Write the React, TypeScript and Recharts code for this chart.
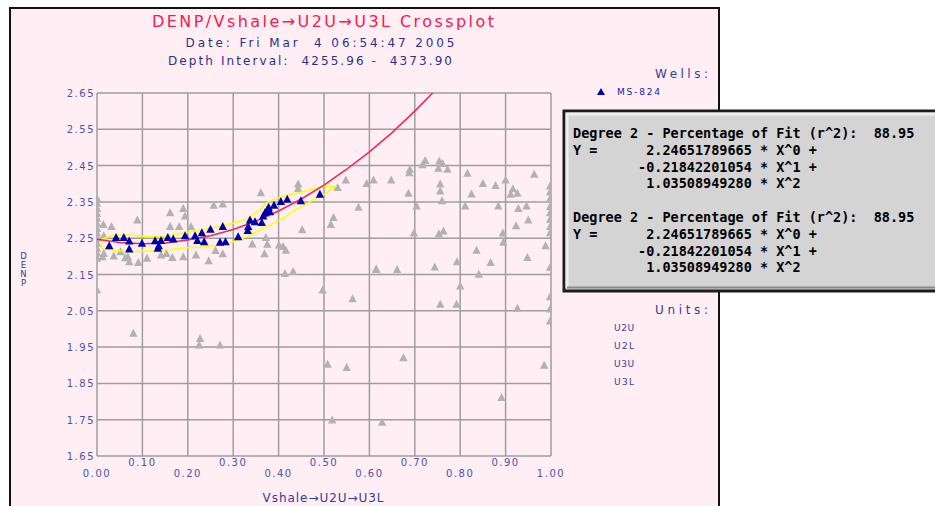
import React from "react";
import { ComposedChart, Scatter, XAxis, YAxis, CartesianGrid } from "recharts";

const X_TICKS = [0, 0.1, 0.2, 0.3, 0.4, 0.5, 0.6, 0.7, 0.8, 0.9, 1.0];
const Y_TICKS = [1.65, 1.75, 1.85, 1.95, 2.05, 2.15, 2.25, 2.35, 2.45, 2.55, 2.65];
const UNITS = ["U2U", "U2L", "U3U", "U3L"];
const FIT_TEXT = [
  "Degree 2 - Percentage of Fit (r^2):  88.95",
  "Y =      2.24651789665 * X^0 +",
  "        -0.21842201054 * X^1 +",
  "         1.03508949280 * X^2",
  "",
  "Degree 2 - Percentage of Fit (r^2):  88.95",
  "Y =      2.24651789665 * X^0 +",
  "        -0.21842201054 * X^1 +",
  "         1.03508949280 * X^2",
];

// grey triangles: all points of the crossplot
const allPoints = [
  { x: 0.0, y: 2.36 }, { x: 0.0, y: 2.346 }, { x: 0.0, y: 2.332 }, { x: 0.0, y: 2.318 },
  { x: 0.0, y: 2.305 }, { x: 0.0, y: 2.291 }, { x: 0.0, y: 2.277 }, { x: 0.0, y: 2.264 },
  { x: 0.0, y: 2.25 }, { x: 0.0, y: 2.236 }, { x: 0.0, y: 2.222 }, { x: 0.0, y: 2.209 },
  { x: 0.0, y: 2.195 }, { x: 0.0, y: 2.107 },
  { x: 0.014, y: 2.288 }, { x: 0.015, y: 2.257 }, { x: 0.015, y: 2.208 }, { x: 0.012, y: 2.199 },
  { x: 0.032, y: 2.282 }, { x: 0.037, y: 2.201 }, { x: 0.052, y: 2.213 }, { x: 0.062, y: 2.196 },
  { x: 0.068, y: 2.199 }, { x: 0.071, y: 2.185 }, { x: 0.089, y: 2.3 }, { x: 0.091, y: 2.183 },
  { x: 0.11, y: 2.195 }, { x: 0.141, y: 2.204 }, { x: 0.153, y: 2.208 }, { x: 0.161, y: 2.32 },
  { x: 0.161, y: 2.282 }, { x: 0.166, y: 2.197 }, { x: 0.181, y: 2.282 }, { x: 0.19, y: 2.332 },
  { x: 0.194, y: 2.311 }, { x: 0.19, y: 2.199 }, { x: 0.207, y: 2.282 }, { x: 0.218, y: 2.204 },
  { x: 0.246, y: 2.188 }, { x: 0.257, y: 2.341 }, { x: 0.261, y: 2.216 }, { x: 0.277, y: 2.344 },
  { x: 0.277, y: 2.207 }, { x: 0.342, y: 2.234 }, { x: 0.361, y: 2.375 }, { x: 0.369, y: 2.207 },
  { x: 0.372, y: 2.252 }, { x: 0.375, y: 2.233 }, { x: 0.401, y: 2.231 }, { x: 0.41, y: 2.227 },
  { x: 0.416, y: 2.217 }, { x: 0.414, y: 2.153 }, { x: 0.432, y: 2.158 }, { x: 0.443, y: 2.399 },
  { x: 0.443, y: 2.387 }, { x: 0.452, y: 2.273 }, { x: 0.515, y: 2.288 }, { x: 0.521, y: 2.307 },
  { x: 0.53, y: 2.39 }, { x: 0.548, y: 2.41 }, { x: 0.576, y: 2.335 }, { x: 0.594, y: 2.401 },
  { x: 0.609, y: 2.41 }, { x: 0.615, y: 2.165 }, { x: 0.648, y: 2.41 }, { x: 0.686, y: 2.374 },
  { x: 0.688, y: 2.43 }, { x: 0.689, y: 2.44 }, { x: 0.704, y: 2.339 }, { x: 0.698, y: 2.264 },
  { x: 0.717, y: 2.452 }, { x: 0.723, y: 2.464 }, { x: 0.752, y: 2.443 }, { x: 0.754, y: 2.463 },
  { x: 0.761, y: 2.456 }, { x: 0.772, y: 2.44 }, { x: 0.756, y: 2.399 }, { x: 0.756, y: 2.38 },
  { x: 0.76, y: 2.353 }, { x: 0.753, y: 2.262 }, { x: 0.763, y: 2.27 }, { x: 0.811, y: 2.339 },
  { x: 0.816, y: 2.429 }, { x: 0.825, y: 2.372 }, { x: 0.85, y: 2.401 }, { x: 0.878, y: 2.395 },
  { x: 0.884, y: 2.339 }, { x: 0.894, y: 2.264 }, { x: 0.895, y: 2.239 }, { x: 0.9, y: 2.41 },
  { x: 0.911, y: 2.371 }, { x: 0.916, y: 2.386 }, { x: 0.926, y: 2.374 }, { x: 0.928, y: 2.332 },
  { x: 0.946, y: 2.339 }, { x: 0.95, y: 2.3 }, { x: 0.923, y: 2.284 }, { x: 0.963, y: 2.426 },
  { x: 0.836, y: 2.217 }, { x: 0.867, y: 2.183 }, { x: 0.948, y: 2.197 }, { x: 0.988, y: 2.229 },
  { x: 0.793, y: 2.185 }, { x: 0.744, y: 2.171 }, { x: 0.841, y: 2.151 }, { x: 0.615, y: 2.164 },
  { x: 0.661, y: 2.164 },
  { x: 0.998, y: 2.394 }, { x: 0.998, y: 2.377 }, { x: 0.998, y: 2.359 }, { x: 0.998, y: 2.337 },
  { x: 0.998, y: 2.32 }, { x: 0.998, y: 2.302 }, { x: 0.998, y: 2.282 }, { x: 0.998, y: 2.265 },
  { x: 0.998, y: 2.17 }, { x: 0.998, y: 2.089 }, { x: 0.998, y: 2.055 }, { x: 0.998, y: 2.022 },
  { x: 0.08, y: 1.988 }, { x: 0.227, y: 1.974 }, { x: 0.225, y: 1.956 }, { x: 0.271, y: 1.956 },
  { x: 0.497, y: 2.107 }, { x: 0.563, y: 2.083 }, { x: 0.508, y: 1.903 }, { x: 0.55, y: 1.894 },
  { x: 0.518, y: 1.749 }, { x: 0.8, y: 2.118 }, { x: 0.756, y: 2.068 }, { x: 0.792, y: 2.068 },
  { x: 0.926, y: 2.057 }, { x: 0.675, y: 1.921 }, { x: 0.985, y: 1.9 }, { x: 0.891, y: 1.811 },
  { x: 0.628, y: 1.743 },
];

// blue triangles: well MS-824
const ms824Points = [
  { x: 0.027, y: 2.229 }, { x: 0.042, y: 2.252 }, { x: 0.059, y: 2.252 }, { x: 0.071, y: 2.242 },
  { x: 0.071, y: 2.22 }, { x: 0.099, y: 2.236 }, { x: 0.128, y: 2.243 }, { x: 0.136, y: 2.229 },
  { x: 0.134, y: 2.222 }, { x: 0.141, y: 2.244 }, { x: 0.156, y: 2.252 }, { x: 0.168, y: 2.248 },
  { x: 0.194, y: 2.257 }, { x: 0.216, y: 2.257 }, { x: 0.221, y: 2.244 }, { x: 0.231, y: 2.265 },
  { x: 0.236, y: 2.24 }, { x: 0.25, y: 2.275 }, { x: 0.271, y: 2.239 }, { x: 0.277, y: 2.282 },
  { x: 0.283, y: 2.24 }, { x: 0.311, y: 2.254 }, { x: 0.332, y: 2.271 }, { x: 0.333, y: 2.282 },
  { x: 0.337, y: 2.3 }, { x: 0.348, y: 2.295 }, { x: 0.363, y: 2.293 }, { x: 0.366, y: 2.311 },
  { x: 0.37, y: 2.32 }, { x: 0.375, y: 2.328 }, { x: 0.378, y: 2.335 }, { x: 0.381, y: 2.323 },
  { x: 0.39, y: 2.341 }, { x: 0.405, y: 2.351 }, { x: 0.419, y: 2.357 }, { x: 0.449, y: 2.353 },
  { x: 0.491, y: 2.371 },
];

// red regression curve
const fitCurve = [
  { x: 0.0, y: 2.247 }, { x: 0.05, y: 2.238 }, { x: 0.1, y: 2.235 }, { x: 0.15, y: 2.237 },
  { x: 0.2, y: 2.245 }, { x: 0.25, y: 2.257 }, { x: 0.3, y: 2.274 }, { x: 0.35, y: 2.297 },
  { x: 0.4, y: 2.325 }, { x: 0.45, y: 2.358 }, { x: 0.5, y: 2.396 }, { x: 0.55, y: 2.44 },
  { x: 0.6, y: 2.488 }, { x: 0.65, y: 2.541 }, { x: 0.7, y: 2.6 }, { x: 0.74, y: 2.651 },
];

// yellow envelope around the well points
const envelope = [
  { x: 0.01, y: 2.247 }, { x: 0.036, y: 2.259 }, { x: 0.073, y: 2.259 }, { x: 0.109, y: 2.254 },
  { x: 0.146, y: 2.254 }, { x: 0.183, y: 2.262 }, { x: 0.22, y: 2.271 }, { x: 0.256, y: 2.279 },
  { x: 0.293, y: 2.289 }, { x: 0.33, y: 2.302 }, { x: 0.359, y: 2.328 }, { x: 0.374, y: 2.348 },
  { x: 0.403, y: 2.363 }, { x: 0.44, y: 2.374 }, { x: 0.476, y: 2.385 }, { x: 0.502, y: 2.394 },
  { x: 0.524, y: 2.392 }, { x: 0.498, y: 2.369 }, { x: 0.476, y: 2.355 }, { x: 0.44, y: 2.33 },
  { x: 0.403, y: 2.3 }, { x: 0.366, y: 2.277 }, { x: 0.33, y: 2.254 }, { x: 0.315, y: 2.247 },
  { x: 0.286, y: 2.234 }, { x: 0.256, y: 2.229 }, { x: 0.22, y: 2.225 }, { x: 0.183, y: 2.222 },
  { x: 0.146, y: 2.217 }, { x: 0.109, y: 2.215 }, { x: 0.073, y: 2.212 }, { x: 0.036, y: 2.217 },
  { x: 0.01, y: 2.222 }, { x: 0.01, y: 2.247 },
];

const TICK_COLOR = "#5050aa";
const FONT = "'DejaVu Sans', sans-serif";

const triangle = (color: string) => (props: any) => {
  const { cx, cy } = props;
  if (cx == null || cy == null) return <g />;
  return (
    <polygon
      points={`${cx},${cy - 4.5} ${cx + 4.2},${cy + 3.5} ${cx - 4.2},${cy + 3.5}`}
      fill={color}
    />
  );
};

const noDot = () => <g />;

const XTick = (props: any) => {
  const { x, y, payload, index } = props;
  const odd = index % 2 === 1;
  return (
    <text
      x={x}
      y={y + (odd ? 10 : 21)}
      textAnchor="middle"
      fontFamily={FONT}
      fontSize={10}
      letterSpacing={1.5}
      fill={TICK_COLOR}
    >
      {Number(payload.value).toFixed(2)}
    </text>
  );
};

const YTick = (props: any) => {
  const { x, y, payload } = props;
  return (
    <text
      x={x}
      y={y + 4}
      textAnchor="end"
      fontFamily={FONT}
      fontSize={10}
      letterSpacing={1.5}
      fill={TICK_COLOR}
    >
      {Number(payload.value).toFixed(2)}
    </text>
  );
};

export default function App() {
  return (
    <div
      style={{
        position: "absolute",
        left: 0,
        top: 0,
        width: 935,
        height: 506,
        overflow: "hidden",
        background: "#ffffff",
      }}
    >
      {/* pink panel */}
      <div
        style={{
          position: "absolute",
          left: 9,
          top: 7,
          width: 711,
          height: 540,
          boxSizing: "border-box",
          background: "#ffeef3",
          border: "2px solid #111",
        }}
      />

      <div style={{ position: "absolute", left: 0, top: 0 }}>
        <ComposedChart
          width={935}
          height={506}
          margin={{ top: 93, right: 384, bottom: 20, left: 67 }}
        >
          <CartesianGrid stroke="#9e9e9e" strokeWidth={1.5} />
          <XAxis
            dataKey="x"
            type="number"
            domain={[0, 1]}
            ticks={X_TICKS}
            interval={0}
            height={30}
            axisLine={false}
            tickLine={false}
            tickSize={0}
            tickMargin={0}
            tick={<XTick />}
            allowDataOverflow
          />
          <YAxis
            dataKey="y"
            type="number"
            domain={[1.65, 2.65]}
            ticks={Y_TICKS}
            interval={0}
            width={30}
            axisLine={false}
            tickLine={false}
            tickSize={0}
            tickMargin={2}
            tick={<YTick />}
            allowDataOverflow
          />
          <Scatter
            data={allPoints}
            shape={triangle("#b2b2b2")}
            isAnimationActive={false}
          />
          <Scatter
            data={envelope}
            line={{ stroke: "#ffff00", strokeWidth: 1.5 }}
            shape={noDot}
            isAnimationActive={false}
          />
          <Scatter
            data={fitCurve}
            line={{ stroke: "#f0245a", strokeWidth: 1.5 }}
            lineType="joint"
            shape={noDot}
            isAnimationActive={false}
          />
          <Scatter
            data={ms824Points}
            shape={triangle("#0000a8")}
            isAnimationActive={false}
          />
        </ComposedChart>
      </div>

      {/* titles, legend and fit report */}
      <svg
        width={935}
        height={506}
        style={{ position: "absolute", left: 0, top: 0, pointerEvents: "none" }}
      >
        <text
          x={323}
          y={27}
          textAnchor="middle"
          fontFamily={FONT}
          fontSize={16}
          fill="#ee2050"
          textLength={342}
          lengthAdjust="spacing"
        >
          DENP/Vshale→U2U→U3L Crossplot
        </text>
        <text
          x={320}
          y={47}
          textAnchor="middle"
          fontFamily={FONT}
          fontSize={12}
          fill="#2e2e8e"
          textLength={269}
          lengthAdjust="spacing"
          style={{ whiteSpace: "pre" }}
        >
          {"Date: Fri Mar  4 06:54:47 2005"}
        </text>
        <text
          x={310}
          y={65}
          textAnchor="middle"
          fontFamily={FONT}
          fontSize={12}
          fill="#2e2e8e"
          textLength={284}
          lengthAdjust="spacing"
          style={{ whiteSpace: "pre" }}
        >
          {"Depth Interval:  4255.96 -  4373.90"}
        </text>

        <text
          x={655}
          y={78}
          fontFamily={FONT}
          fontSize={12}
          fill="#3a3a9a"
          textLength={53}
          lengthAdjust="spacing"
        >
          Wells:
        </text>
        <polygon points="601,88 605,95 597,95" fill="#0000c0" />
        <text
          x={617}
          y={95}
          fontFamily={FONT}
          fontSize={9}
          fill="#2020c0"
          textLength={43}
          lengthAdjust="spacing"
        >
          MS-824
        </text>

        <text
          x={655}
          y={314}
          fontFamily={FONT}
          fontSize={12}
          fill="#3a3a9a"
          textLength={53}
          lengthAdjust="spacing"
        >
          Units:
        </text>
        {UNITS.map((u, i) => (
          <text
            key={u}
            x={614}
            y={331 + i * 18}
            fontFamily={FONT}
            fontSize={9}
            fill="#3a3a9a"
            textLength={20}
            lengthAdjust="spacing"
          >
            {u}
          </text>
        ))}

        {/* stacked y-axis title, upright letters */}
        <text
          x={23.5}
          y={251}
          fontFamily={FONT}
          fontSize={8.5}
          letterSpacing={-1}
          fill="#3a3a9a"
          style={{ writingMode: "vertical-rl", textOrientation: "upright" } as any}
        >
          DENP
        </text>
        <text
          x={323}
          y={502}
          textAnchor="middle"
          fontFamily={FONT}
          fontSize={12}
          fill="#3a3a9a"
          textLength={121}
          lengthAdjust="spacing"
        >
          Vshale→U2U→U3L
        </text>

        {/* fit report box */}
        <rect x={564} y={111} width={380} height={180} fill="#d4d4d4" stroke="#1c1c1c" strokeWidth={3} />
        <path d="M567,288 L567,114 L944,114" fill="none" stroke="#eeeeee" strokeWidth={3} />
        <path d="M567,287.5 L944,287.5" fill="none" stroke="#8a8a8a" strokeWidth={2} />
        {FIT_TEXT.map((line, i) =>
          line ? (
            <text
              key={i}
              x={573}
              y={138 + i * 16.8}
              fontFamily="'DejaVu Sans Mono', monospace"
              fontWeight="bold"
              fontSize={13.5}
              fill="#000"
              style={{ whiteSpace: "pre" }}
            >
              {line}
            </text>
          ) : null
        )}
      </svg>
    </div>
  );
}
